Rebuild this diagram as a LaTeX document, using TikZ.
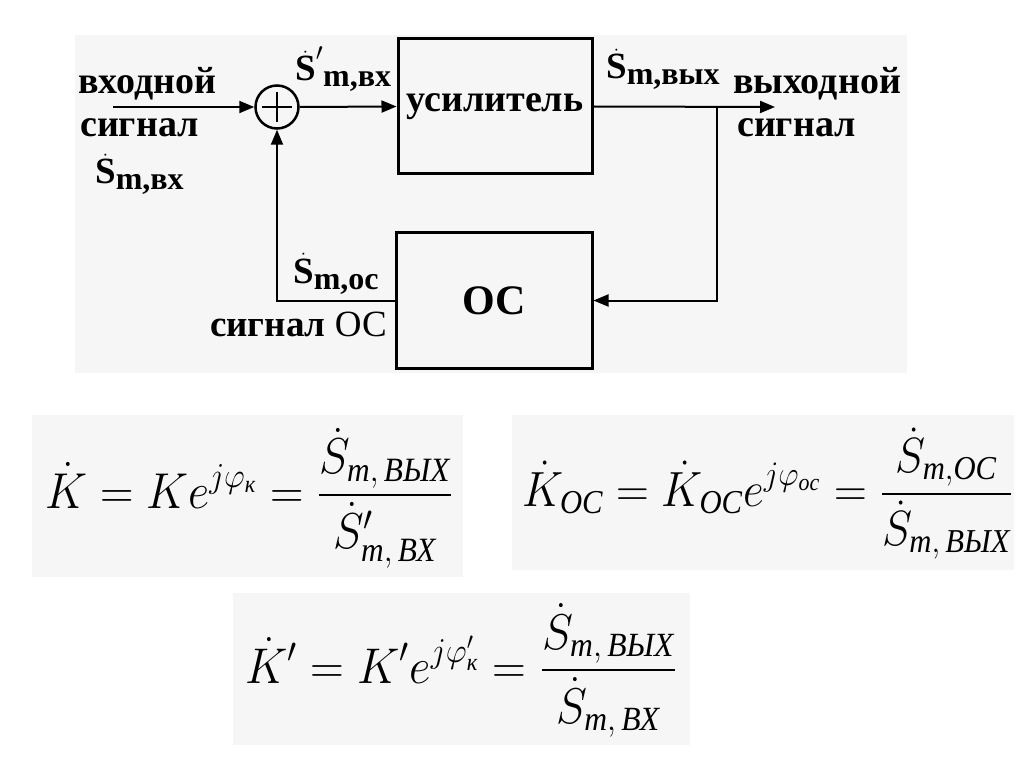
\documentclass[tikz,border=0pt]{standalone}
\usepackage{amsmath}
\usepackage{graphicx}
\usepackage{fontspec}
\setmainfont{LiberationSerif}[Extension=.ttf, UprightFont=*-Regular, BoldFont=*-Bold, ItalicFont=*-Italic, BoldItalicFont=*-BoldItalic]
\usetikzlibrary{arrows.meta}
\definecolor{panelgray}{RGB}{246,246,246}
\newcommand{\cy}[1]{\text{\itshape #1}}
\newcommand{\sdlab}[2]{{\fontsize{37}{37}\selectfont$\dot{\text{S}}#2$}\raisebox{-6pt}{\fontsize{32}{32}\selectfont\bfseries #1}}
\tikzset{
  blk/.style={draw, line width=3pt, inner sep=0pt, font=\fontsize{38}{40}\selectfont\bfseries},
  conn/.style={line width=2pt},
  arr/.style={conn, -{Triangle[length=15pt,width=12pt]}},
  lbl/.style={font=\fontsize{38}{40}\selectfont\bfseries, inner sep=0pt, anchor=base west},
  panel/.style={fill=panelgray, draw=none},
  fml/.style={inner sep=0pt, anchor=base west, font=\fontsize{20}{24}\selectfont},
}
\begin{document}
\begin{tikzpicture}[x=1pt,y=-1pt]
\useasboundingbox (0,0) rectangle (1024,767);
\fill[white] (0,0) rectangle (1024,767);
% panels
\fill[panel] (75,35) rectangle (907,373);
\fill[panel] (32,415) rectangle (463,577);
\fill[panel] (512,415) rectangle (1014,570);
\fill[panel] (233,593) rectangle (690,745);
% blocks
\node[blk, minimum width=194pt, minimum height=135pt] (amp) at (495,106.5) {усилитель};
\node[blk, minimum width=196pt, minimum height=135pt, font=\fontsize{42}{44}\selectfont\bfseries] (oc) at (494,300.5) {ОС};
\node[draw, circle, line width=2.5pt, minimum size=43pt, inner sep=0pt] (sum) at (277,107) {};
\draw[line width=2pt] (sum.center) ++(-15,0) -- ++(30,0);
\draw[line width=2pt] (sum.center) ++(0,-15) -- ++(0,30);
% connectors
\coordinate (in) at (113,107);
\coordinate (br) at (717,107);
\coordinate (out) at (775,107);
\draw[arr] (in) -- (sum.west);
\draw[arr] (sum.east) -- (amp.west);
\draw[arr] (amp.east) -- (out);
\draw[arr] (br) |- (oc.east);
\draw[arr] (oc.west) -| (sum.south);
% labels
\node[lbl] (inl1) at (78,94) {входной};
\node[lbl] (inl2) at (80,137) {сигнал};
\node[lbl] (inS) at (95,184) {\sdlab{m,вх}{}};
\node[lbl] (Sp) at (295,81) {\sdlab{m,вх}{'}};
\node[lbl] (Sout) at (606,79) {\sdlab{m,вых}{}};
\node[lbl] (outl1) at (733,94) {выходной};
\node[lbl] (outl2) at (737,137) {сигнал};
\node[lbl] (Soc) at (293,283) {\sdlab{m,oc}{}};
\node[lbl, font=\fontsize{37}{40}\selectfont\bfseries] (ocl) at (210,336) {сигнал \mdseries ОС};
% formulas
\node[fml] (f1) at (45,508) {\resizebox*{408pt}{140pt}{$\displaystyle \dot K = K e^{j\varphi_{\cy{к}}} = \frac{\dot S_{\cy{т},\,\cy{ВЫХ}}}{\dot S'_{\cy{т},\,\cy{ВХ}}}$}};
\node[fml] (f2) at (522,506) {\resizebox*{491pt}{132pt}{$\displaystyle \dot K_{\cy{ОС}} = \dot K_{\cy{ОС}} e^{j\varphi_{\cy{ос}}} = \frac{\dot S_{\cy{т},\cy{ОС}}}{\dot S_{\cy{т},\,\cy{ВЫХ}}}$}};
\node[fml] (f3) at (245,683) {\resizebox*{432pt}{134pt}{$\displaystyle \dot K' = K' e^{j\varphi'_{\cy{к}}} = \frac{\dot S_{\cy{т},\,\cy{ВЫХ}}}{\dot S_{\cy{т},\,\cy{ВХ}}}$}};
\end{tikzpicture}
\end{document}
